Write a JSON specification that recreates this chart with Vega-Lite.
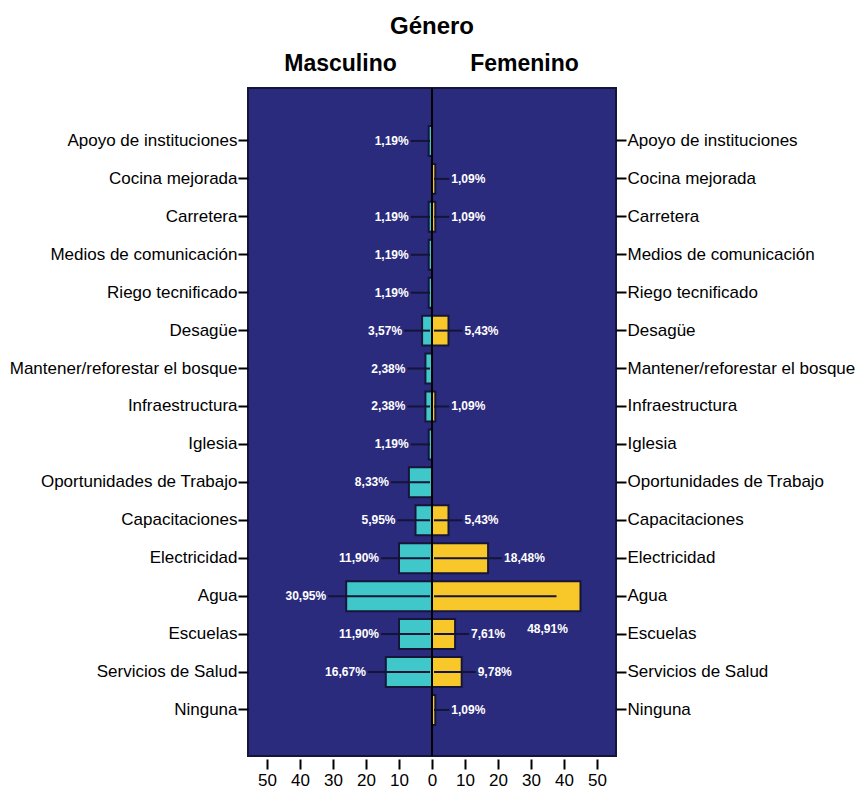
{
  "$schema": "https://vega.github.io/schema/vega-lite/v6.json",
  "autosize": "none",
  "width": 368,
  "height": 668,
  "padding": {"left": 248, "top": 88, "right": 242, "bottom": 36},
  "background": "white",
  "config": {
    "font": "Liberation Sans",
    "view": {"fill": "#2b2b7e", "stroke": "#15153a", "strokeWidth": 2}
  },
  "title": {"text": "Género", "fontSize": 24, "fontWeight": "bold", "color": "black", "anchor": "middle", "offset": 13},
  "data": {
    "values": [
      {"categoria": "Apoyo de instituciones", "genero": "Masculino", "valor": -1, "pct": "1,19%"},
      {"categoria": "Carretera", "genero": "Masculino", "valor": -1, "pct": "1,19%"},
      {"categoria": "Medios de comunicación", "genero": "Masculino", "valor": -1, "pct": "1,19%"},
      {"categoria": "Riego tecnificado", "genero": "Masculino", "valor": -1, "pct": "1,19%"},
      {"categoria": "Desagüe", "genero": "Masculino", "valor": -3, "pct": "3,57%"},
      {"categoria": "Mantener/reforestar el bosque", "genero": "Masculino", "valor": -2, "pct": "2,38%"},
      {"categoria": "Infraestructura", "genero": "Masculino", "valor": -2, "pct": "2,38%"},
      {"categoria": "Iglesia", "genero": "Masculino", "valor": -1, "pct": "1,19%"},
      {"categoria": "Oportunidades de Trabajo", "genero": "Masculino", "valor": -7, "pct": "8,33%"},
      {"categoria": "Capacitaciones", "genero": "Masculino", "valor": -5, "pct": "5,95%"},
      {"categoria": "Electricidad", "genero": "Masculino", "valor": -10, "pct": "11,90%"},
      {"categoria": "Agua", "genero": "Masculino", "valor": -26, "pct": "30,95%"},
      {"categoria": "Escuelas", "genero": "Masculino", "valor": -10, "pct": "11,90%"},
      {"categoria": "Servicios de Salud", "genero": "Masculino", "valor": -14, "pct": "16,67%"},
      {"categoria": "Cocina mejorada", "genero": "Femenino", "valor": 1, "pct": "1,09%"},
      {"categoria": "Carretera", "genero": "Femenino", "valor": 1, "pct": "1,09%"},
      {"categoria": "Desagüe", "genero": "Femenino", "valor": 5, "pct": "5,43%"},
      {"categoria": "Infraestructura", "genero": "Femenino", "valor": 1, "pct": "1,09%"},
      {"categoria": "Capacitaciones", "genero": "Femenino", "valor": 5, "pct": "5,43%"},
      {"categoria": "Electricidad", "genero": "Femenino", "valor": 17, "pct": "18,48%"},
      {"categoria": "Agua", "genero": "Femenino", "valor": 45, "pct": "48,91%"},
      {"categoria": "Escuelas", "genero": "Femenino", "valor": 7, "pct": "7,61%"},
      {"categoria": "Servicios de Salud", "genero": "Femenino", "valor": 9, "pct": "9,78%"},
      {"categoria": "Ninguna", "genero": "Femenino", "valor": 1, "pct": "1,09%"}
    ]
  },
  "resolve": {"axis": {"x": "independent", "y": "independent"}},
  "layer": [
    {
      "mark": {"type": "bar", "stroke": "#16163a", "strokeWidth": 2},
      "encoding": {
        "x": {
          "field": "valor", "type": "quantitative",
          "scale": {"domain": [-55.76, 55.76], "nice": false, "zero": false},
          "axis": {
            "orient": "bottom", "values": [-50, -40, -30, -20, -10, 0, 10, 20, 30, 40, 50],
            "labelExpr": "abs(datum.value)", "labelFontSize": 17, "labelColor": "black",
            "tickColor": "black", "tickWidth": 2, "tickSize": 10, "domain": false, "grid": false,
            "title": null, "labelPadding": 3, "offset": 3, "labelFlush": false, "labelOverlap": false
          }
        },
        "y": {
          "field": "categoria", "type": "nominal",
          "scale": {
            "domain": ["Apoyo de instituciones", "Cocina mejorada", "Carretera", "Medios de comunicación", "Riego tecnificado", "Desagüe", "Mantener/reforestar el bosque", "Infraestructura", "Iglesia", "Oportunidades de Trabajo", "Capacitaciones", "Electricidad", "Agua", "Escuelas", "Servicios de Salud", "Ninguna"],
            "paddingInner": 0.21, "paddingOuter": 0.91, "align": 0.55
          },
          "axis": {
            "orient": "left", "labelFontSize": 17, "labelColor": "black", "tickColor": "black",
            "tickWidth": 2, "tickSize": 10, "domain": false, "title": null, "labelPadding": 1, "labelLimit": 300
          }
        },
        "color": {
          "field": "genero", "type": "nominal",
          "scale": {"domain": ["Masculino", "Femenino"], "range": ["#3fc7c9", "#f8c82b"]},
          "legend": null
        }
      }
    },
    {
      "transform": [{"filter": "datum.genero === 'Masculino'"}],
      "mark": {"type": "rule", "color": "#141438", "strokeWidth": 2, "xOffset": -18, "x2Offset": -2},
      "encoding": {
        "x": {"field": "valor", "type": "quantitative", "axis": null},
        "x2": {"datum": 0},
        "y": {"field": "categoria", "type": "nominal", "axis": null}
      }
    },
    {
      "transform": [{"filter": "datum.genero === 'Femenino' && datum.valor <= 40"}],
      "mark": {"type": "rule", "color": "#141438", "strokeWidth": 2, "xOffset": 14, "x2Offset": 2},
      "encoding": {
        "x": {"field": "valor", "type": "quantitative", "axis": null},
        "x2": {"datum": 0},
        "y": {"field": "categoria", "type": "nominal", "axis": null}
      }
    },
    {
      "transform": [{"filter": "datum.genero === 'Femenino' && datum.valor > 40"}],
      "mark": {"type": "rule", "color": "#141438", "strokeWidth": 2, "xOffset": -24, "x2Offset": 2},
      "encoding": {
        "x": {"field": "valor", "type": "quantitative", "axis": null},
        "x2": {"datum": 0},
        "y": {"field": "categoria", "type": "nominal", "axis": null}
      }
    },
    {
      "mark": {"type": "rule", "color": "black", "strokeWidth": 2},
      "encoding": {"x": {"datum": 0, "type": "quantitative", "axis": null}}
    },
    {
      "transform": [{"filter": "datum.genero === 'Masculino'"}],
      "mark": {"type": "text", "align": "right", "baseline": "middle", "dx": -20, "fontSize": 12, "fontWeight": "bold", "color": "white"},
      "encoding": {
        "x": {"field": "valor", "type": "quantitative", "axis": null},
        "y": {"field": "categoria", "type": "nominal", "axis": null},
        "text": {"field": "pct"}
      }
    },
    {
      "transform": [{"filter": "datum.genero === 'Femenino' && datum.valor > 40"}],
      "mark": {"type": "text", "align": "center", "baseline": "middle", "dx": -33, "dy": 33, "fontSize": 12, "fontWeight": "bold", "color": "white"},
      "encoding": {
        "x": {"field": "valor", "type": "quantitative", "axis": null},
        "y": {"field": "categoria", "type": "nominal", "axis": null},
        "text": {"field": "pct"}
      }
    },
    {
      "transform": [{"filter": "datum.genero === 'Femenino' && datum.valor <= 40"}],
      "mark": {"type": "text", "align": "left", "baseline": "middle", "dx": 16, "fontSize": 12, "fontWeight": "bold", "color": "white"},
      "encoding": {
        "x": {
          "field": "valor", "type": "quantitative",
          "axis": {
            "orient": "top", "values": [-27.88, 27.88],
            "labelExpr": "datum.value < 0 ? 'Masculino' : 'Femenino'",
            "labelFontSize": 23, "labelFontWeight": "bold", "labelColor": "black",
            "ticks": false, "domain": false, "grid": false, "title": null,
            "labelPadding": 13, "labelFlush": false, "labelOverlap": false
          }
        },
        "y": {
          "field": "categoria", "type": "nominal",
          "axis": {
            "orient": "right", "labelFontSize": 17, "labelColor": "black", "tickColor": "black",
            "tickWidth": 2, "tickSize": 10, "domain": false, "title": null, "labelPadding": 1, "labelLimit": 300
          }
        },
        "text": {"field": "pct"}
      }
    }
  ]
}
